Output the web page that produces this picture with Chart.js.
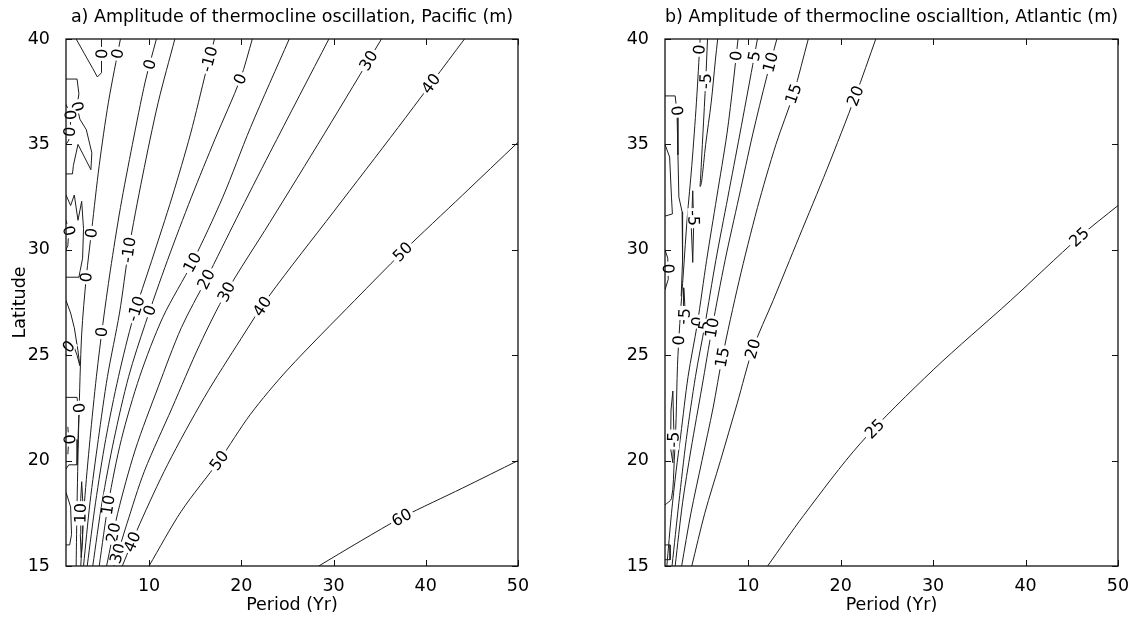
<!DOCTYPE html>
<html>
<head>
<meta charset="utf-8">
<script src="https://cdn.jsdelivr.net/npm/chart.js@4/dist/chart.umd.min.js"></script>
<style>
  body { margin: 0; background: #fff; }
  .panel { position: absolute; top: 0; width: 568px; height: 624px; }
</style>
</head>
<body>
<div class="panel" style="left:0"><canvas id="pacific"></canvas></div>
<div class="panel" style="left:568px"><canvas id="atlantic"></canvas></div>
<script>
const periodTicks = [10, 20, 30, 40, 50];
const latitudeTicks = [15, 20, 25, 30, 35, 40];

// Pacific contours, [period, latitude]
const pac60 = [[28.4, 15], [33, 16.2], [37.4, 17.3], [44, 18.7], [50, 20.0]];
const pac50 = [[10, 15], [13.5, 17.6], [17.6, 20], [21, 22.2], [25, 24.3], [32.3, 27.6], [37.5, 29.9], [44, 32.6], [50, 35.1]];
const pac40 = [[7.1, 15], [9, 17], [12, 19.8], [16, 23], [20, 25.8], [23, 27.8], [30, 31.8], [37, 35.8], [44.2, 40]];
const pac30 = [[6.2, 15], [7.6, 17], [9.5, 19.5], [12.5, 22.5], [15.5, 25.5], [18.4, 28], [23.1, 31.3], [29, 35.5], [35.2, 40]];
const pac20 = [[5.4, 15], [6.6, 17.5], [8.5, 20.5], [11, 23.5], [13.5, 26.3], [16.2, 28.6], [19.5, 31.5], [23.1, 34.6], [29.5, 40]];
const pac10 = [[4.6, 15], [5.6, 18], [7, 21], [9, 24], [11.5, 26.8], [14.7, 29.4], [18, 32.5], [21, 35.8], [25.2, 40]];
const pac0 = [[3.9, 15], [4.9, 18], [6.2, 21], [7.8, 24], [9.6, 26.5], [12, 29.5], [14.6, 32.5], [17.2, 35.3], [19.9, 38.1], [21.2, 40]];
const pacM10 = [[3.3, 15], [4.2, 18], [5.3, 21], [6.7, 24], [8.3, 26.8], [10.3, 29.5], [12.5, 32.5], [14.5, 35.5], [16.2, 38.5], [17.1, 40]];
const pacM10w = [[2.9, 15], [3.6, 18], [4.5, 21], [5.5, 24], [6.8, 27], [7.8, 30], [9.3, 33.5], [11, 37], [12.8, 40]];
const pac0w = [[2.6, 15], [3.0, 18], [3.6, 21], [4.3, 24], [5.0, 26.5], [5.8, 29], [6.9, 32], [8.2, 35], [9.6, 38], [10.8, 40]];
const pac0far = [[2.1, 15], [2.2, 18], [2.4, 22], [2.7, 26], [3.2, 28.7], [3.8, 31], [4.6, 34], [5.6, 37], [6.9, 40]];

// small wiggles along the western edge
const pacU = [[2.1, 40], [3.0, 39.3], [3.9, 38.6], [4.4, 38.2], [4.85, 38.4], [4.9, 39.4], [4.8, 40]];
const pacE1 = [[1, 38.1], [2.2, 38.1], [2.4, 37.4], [2.2, 36.8], [2.5, 36.2], [3.2, 35.7], [3.8, 34.6], [3.7, 33.8], [3.0, 34.4], [2.3, 35.0], [1.8, 34.0], [1.7, 33.6], [1, 33.6]];
const pacE2 = [[1, 36.9], [1.4, 36.5], [1.5, 35.9], [1.3, 35.2], [1, 35.0]];
const pacE3 = [[1, 32.6], [1.5, 32.1], [1.9, 32.6], [2.3, 31.4], [2.7, 32.3], [2.9, 31.0], [2.8, 29.6], [2.4, 28.7], [1, 28.7]];
const pacE4 = [[1, 31.4], [1.3, 30.9], [1.2, 30.2], [1, 30.0]];
const pacE5 = [[1, 27.6], [1.5, 27.0], [1.9, 26.3], [2.3, 25.2], [2.5, 24.5], [2.2, 25.0], [1.7, 25.6], [1.3, 25.4], [1, 25.0]];
const pacE6 = [[1, 23.0], [2.2, 23.0], [2.4, 22.2], [2.3, 21], [2.2, 19.8], [1.3, 19.8], [1, 19.6]];
const pacE7 = [[1.2, 21.6], [1.3, 21.0], [1.2, 20.3]];
const pacE8 = [[1, 18.5], [1.5, 17.8], [1.6, 16.5], [1.4, 16.0], [1, 16.0]];
const pacLoop10 = [[2.7, 19.0], [2.85, 17.8], [2.8, 16.2], [2.65, 15.4], [2.55, 16.5], [2.6, 18.2], [2.7, 19.0]];

const pacificLines = [[60, pac60], [50, pac50], [40, pac40], [30, pac30], [20, pac20], [10, pac10],
  [0, pac0], [-10, pacM10], [-10, pacM10w], [0, pac0w], [0, pac0far]];
const pacificEdges = [[0, pacU], [0, pacE1], [0, pacE2], [0, pacE3], [0, pacE4], [0, pacE5],
  [0, pacE6], [0, pacE7], [0, pacE8], [10, pacLoop10]];

// inline labels: [text, period, latitude]
const pacificLabels = [
  ['0', 4.4, 39.3], ['0', 6.6, 39.3], ['0', 10.0, 38.8], ['-10', 16.9, 39.0], ['0', 19.9, 38.1],
  ['30', 33.7, 39.0], ['40', 40.5, 37.9], ['-10', 7.8, 30.0], ['10', 14.7, 29.4], ['20', 16.2, 28.6],
  ['30', 18.4, 28.0], ['40', 22.3, 27.3], ['0', 3.2, 28.7], ['-10', 8.6, 27.2], ['0', 4.9, 26.1],
  ['0', 10.2, 27.1], ['50', 37.5, 29.9], ['50', 17.6, 20.0], ['60', 37.4, 17.3],
  ['0', 2.3, 36.8], ['0', 1.4, 36.4], ['0', 1.3, 35.6], ['0', 1.3, 30.9], ['0', 3.7, 30.8],
  ['0', 1.3, 25.4], ['0', 2.3, 22.5], ['0', 1.2, 21.0], ['10', 2.7, 17.5],
  ['10', 5.5, 17.9], ['20', 5.9, 16.6], ['30', 6.6, 15.6], ['40', 7.9, 16.2]
];

// Atlantic contours
const atl25 = [[12.1, 15], [16, 17.4], [22.1, 20.8], [30, 24.3], [38.4, 27.6], [45.8, 30.6], [50, 32.1]];
const atl20 = [[3.9, 15], [5.3, 17.5], [7, 20], [8.8, 22.7], [10.5, 25.3], [12.7, 27.6], [15.5, 30.6], [18.5, 33.8], [21.6, 37.3], [23.8, 40]];
const atl15 = [[2.8, 15], [3.8, 17.5], [5, 20], [6.2, 22.5], [7.2, 24.9], [9, 28.5], [11, 32], [13, 35], [14.9, 37.4], [16.5, 40]];
const atl10 = [[2.1, 15], [2.9, 18], [3.8, 20.5], [5, 23.5], [6.1, 26.3], [7.5, 29.5], [9, 32.5], [10.5, 35.5], [12.0, 38.2], [13.1, 40]];
const atl5 = [[1.76, 15], [2.5, 18], [3.3, 21], [4.3, 24], [5.3, 26.4], [6.5, 29.5], [7.8, 32.5], [9.1, 35.5], [10.5, 38.8], [11.0, 40]];
const atl0 = [[1.2, 15], [1.7, 17.5], [2.2, 19.5], [2.7, 21.2], [3.5, 24], [4.5, 26.5], [5.5, 29.5], [6.6, 32.5], [7.7, 35.5], [8.4, 38], [8.9, 40]];
const atl0w = [[4.8, 40], [4.4, 37], [3.9, 34], [3.4, 31.5], [3.0, 29], [2.6, 26.5], [2.35, 24.5], [2.2, 22], [2.0, 20], [1.7, 18.2], [1, 17.9]];
const atlM5 = [[5.6, 40], [5.4, 38], [5.1, 35.5], [4.85, 33.4], [4.8, 33.0], [4.95, 33.2], [5.4, 35], [6.0, 37], [6.45, 39], [6.7, 40]];

const atlE1 = [[1, 37.3], [2.1, 37.3], [2.3, 36.5], [2.4, 34.5], [2.5, 32.5], [2.85, 31.8], [2.9, 29.5], [2.75, 27.8]];
const atlE2 = [[1, 35.0], [1.5, 34.4], [1.7, 32.5], [1.8, 31.7], [1, 31.6]];
const atlE3 = [[1, 30.0], [1.3, 29.6], [1.35, 28.6], [1, 28.1]];
const atlE4 = [[1, 16.0], [1.55, 16.0], [1.55, 15.3], [1, 15.3]];
const atlLoopM5 = [[1.85, 23.3], [1.95, 21.5], [1.85, 19.9], [1.6, 20.6], [1.65, 22.4], [1.85, 23.3]];
const atlLoopM5b = [[4.0, 32.8], [4.1, 31.2], [4.0, 29.4], [3.85, 31.0], [4.0, 32.8]];
const atlLoop5 = [[3.05, 28.2], [3.15, 27.3], [3.05, 26.5], [2.95, 27.3], [3.05, 28.2]];

const atlanticLines = [[25, atl25], [20, atl20], [15, atl15], [10, atl10], [5, atl5], [0, atl0], [0, atl0w], [-5, atlM5]];
const atlanticEdges = [[0, atlE1], [0, atlE2], [0, atlE3], [0, atlE4], [-5, atlLoopM5], [-5, atlLoopM5b], [5, atlLoop5]];

const atlanticLabels = [
  ['0', 4.5, 39.5], ['-5', 5.4, 38.0], ['0', 8.6, 39.2], ['5', 10.6, 39.2], ['10', 12.4, 38.9],
  ['15', 14.9, 37.4], ['20', 21.6, 37.3], ['0', 2.3, 36.6], ['-5', 4.0, 31.5], ['0', 1.3, 29.1],
  ['5', 3.1, 27.0], ['0', 4.4, 26.6], ['5', 5.3, 26.4], ['10', 6.1, 26.3], ['0', 2.45, 25.7],
  ['15', 7.2, 24.9], ['20', 10.5, 25.3], ['-5', 1.8, 21.0], ['25', 23.8, 21.45], ['25', 45.8, 30.6]
];

const FONT = '"DejaVu Sans", sans-serif';
const INK = '#1e1e1e';

function contourSets(lines, edges) {
  const mk = (level, pts, tension) => ({
    label: String(level),
    data: pts.map(p => ({ x: p[0], y: p[1] })),
    showLine: true,
    borderColor: INK,
    borderWidth: 1,
    pointRadius: 0,
    tension: tension
  });
  return lines.map(l => mk(l[0], l[1], 0.3)).concat(edges.map(l => mk(l[0], l[1], 0)));
}

// snap a label onto the closest contour of the same level
function snapLabel(chart, text, px, py) {
  const xs = chart.scales.x, ys = chart.scales.y;
  let best = null;
  chart.data.datasets.forEach(ds => {
    if (ds.label !== text) return;
    const pts = ds.data.map(p => [xs.getPixelForValue(p.x), ys.getPixelForValue(p.y)]);
    for (let i = 0; i < pts.length - 1; i++) {
      const [x1, y1] = pts[i], [x2, y2] = pts[i + 1];
      const dx = x2 - x1, dy = y2 - y1, len2 = dx * dx + dy * dy;
      let t = len2 ? ((px - x1) * dx + (py - y1) * dy) / len2 : 0;
      t = Math.max(0, Math.min(1, t));
      const qx = x1 + t * dx, qy = y1 + t * dy;
      const d = Math.hypot(px - qx, py - qy);
      if (!best || d < best.d) best = { d, x: qx, y: qy, a: Math.atan2(dy, dx) };
    }
  });
  return best;
}

const framePlugin = {
  id: 'frame',
  afterDatasetsDraw(chart, args, opts) {
    const { ctx, chartArea: a, scales: { x, y } } = chart;
    ctx.save();
    ctx.font = '16px ' + FONT;
    ctx.textAlign = 'center';
    ctx.textBaseline = 'middle';
    (opts.labels || []).forEach(([text, vx, vy]) => {
      const px = x.getPixelForValue(vx), py = y.getPixelForValue(vy);
      const s = snapLabel(chart, text, px, py);
      let cx = px, cy = py, ang = 0;
      if (s && s.d < 14) {
        cx = s.x; cy = s.y; ang = s.a;
        if (ang > Math.PI / 2) ang -= Math.PI;
        if (ang < -Math.PI / 2) ang += Math.PI;
      }
      const w = ctx.measureText(text).width;
      ctx.save();
      ctx.translate(cx, cy);
      ctx.rotate(ang);
      ctx.fillStyle = '#fff';
      ctx.fillRect(-w / 2 - 2, -6, w + 4, 12);
      ctx.fillStyle = '#000';
      ctx.fillText(text, 0, 1);
      ctx.restore();
    });

    // axes box with inward ticks
    ctx.strokeStyle = '#111';
    ctx.lineWidth = 1.3;
    ctx.strokeRect(a.left, a.top, a.right - a.left, a.bottom - a.top);
    ctx.lineWidth = 1;
    const tl = 6;
    ctx.beginPath();
    periodTicks.forEach(v => {
      const px = Math.round(x.getPixelForValue(v)) + 0.5;
      ctx.moveTo(px, a.bottom); ctx.lineTo(px, a.bottom - tl);
      ctx.moveTo(px, a.top); ctx.lineTo(px, a.top + tl);
    });
    latitudeTicks.forEach(v => {
      const py = Math.round(y.getPixelForValue(v)) + 0.5;
      ctx.moveTo(a.left, py); ctx.lineTo(a.left + tl, py);
      ctx.moveTo(a.right, py); ctx.lineTo(a.right - tl, py);
    });
    ctx.stroke();
    ctx.restore();
  }
};

function panel(canvasId, title, lines, edges, labels, yTitle, leftPad, rightPad) {
  const tickFont = { family: FONT, size: 17.5 };
  return new Chart(document.getElementById(canvasId), {
    type: 'scatter',
    data: { datasets: contourSets(lines, edges) },
    plugins: [framePlugin],
    options: {
      responsive: true,
      maintainAspectRatio: false,
      animation: false,
      layout: { padding: { left: 0, right: rightPad, top: 0, bottom: 0 } },
      plugins: {
        legend: { display: false },
        tooltip: { enabled: false },
        title: {
          display: true,
          text: title,
          fullSize: false,
          color: '#000',
          font: { family: FONT, size: 17.5, weight: 'normal' },
          padding: { top: 7, bottom: 11 }
        },
        frame: { labels: labels }
      },
      scales: {
        x: {
          type: 'linear',
          min: 1,
          max: 50,
          afterBuildTicks: s => { s.ticks = periodTicks.map(v => ({ value: v })); },
          afterFit: s => { s.height = 58; },
          grid: { display: false },
          border: { display: false },
          ticks: { color: '#000', font: tickFont, padding: 2, maxRotation: 0 },
          title: { display: true, text: 'Period (Yr)', color: '#000', font: tickFont, padding: { top: 0, bottom: 8 } }
        },
        y: {
          type: 'linear',
          min: 15,
          max: 40,
          afterBuildTicks: s => { s.ticks = latitudeTicks.map(v => ({ value: v })); },
          afterFit: s => { s.width = leftPad; },
          grid: { display: false },
          border: { display: false },
          ticks: { color: '#000', font: tickFont, padding: 8 },
          title: { display: !!yTitle, text: yTitle, color: '#000', font: tickFont, padding: { top: 10, bottom: 0 } }
        }
      }
    }
  });
}

panel('pacific', 'a) Amplitude of thermocline oscillation, Pacific (m)',
  pacificLines, pacificEdges, pacificLabels, 'Latitude', 66, 50);
panel('atlantic', 'b) Amplitude of thermocline oscialltion, Atlantic (m)',
  atlanticLines, atlanticEdges, atlanticLabels, '', 97, 18);
</script>
</body>
</html>
